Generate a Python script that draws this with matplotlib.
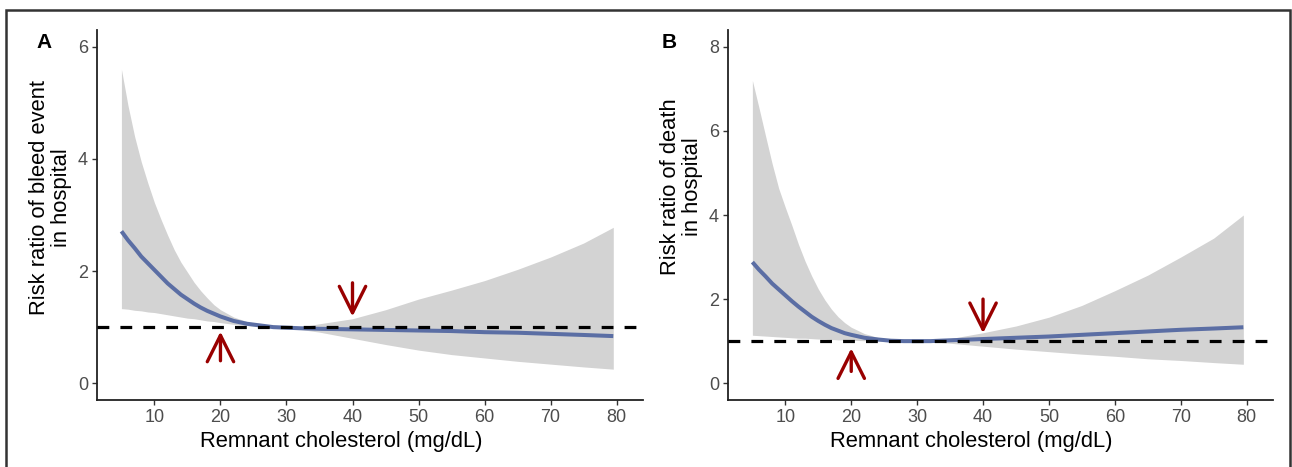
import matplotlib
matplotlib.use("Agg")
import matplotlib.pyplot as plt
from matplotlib.patches import Rectangle

plt.rcParams['font.family'] = ['Liberation Sans', 'DejaVu Sans']
plt.rcParams['lines.scale_dashes'] = False

# ---- Data ----
x_grid = [5, 6, 7, 8, 9, 10, 11, 12, 13, 14, 15, 16, 17, 18, 19, 20,
          22, 24, 26, 28, 30, 32, 35, 40, 45, 50, 55, 60, 65, 70, 75, 79.5]

# Panel A: bleed event in hospital
a_fit = [2.71, 2.55, 2.41, 2.26, 2.14, 2.02, 1.90, 1.78, 1.68, 1.58, 1.50, 1.42, 1.35, 1.29, 1.24, 1.19,
         1.11, 1.06, 1.03, 1.00, 0.99, 0.98, 0.97, 0.96, 0.95, 0.94, 0.93, 0.91, 0.90, 0.88, 0.86, 0.84]
a_upper = [5.60, 4.95, 4.40, 3.95, 3.57, 3.22, 2.92, 2.64, 2.38, 2.16, 1.98, 1.80, 1.65, 1.52, 1.40, 1.31,
           1.18, 1.10, 1.05, 1.01, 1.00, 1.00, 1.06, 1.15, 1.31, 1.50, 1.66, 1.83, 2.03, 2.25, 2.50, 2.78]
a_lower = [1.33, 1.32, 1.30, 1.29, 1.27, 1.26, 1.24, 1.22, 1.20, 1.18, 1.16, 1.15, 1.13, 1.11, 1.10, 1.08,
           1.05, 1.03, 1.01, 0.99, 0.98, 0.96, 0.91, 0.80, 0.69, 0.59, 0.51, 0.45, 0.39, 0.34, 0.29, 0.25]

# Panel B: death in hospital
b_fit = [2.88, 2.70, 2.54, 2.37, 2.23, 2.09, 1.95, 1.82, 1.70, 1.58, 1.48, 1.39, 1.31, 1.25, 1.19, 1.15,
         1.08, 1.04, 1.01, 1.00, 1.00, 1.00, 1.02, 1.05, 1.08, 1.11, 1.15, 1.19, 1.23, 1.27, 1.30, 1.33]
b_upper = [7.20, 6.55, 5.88, 5.22, 4.63, 4.18, 3.75, 3.30, 2.90, 2.55, 2.24, 1.98, 1.76, 1.58, 1.44, 1.33,
           1.18, 1.09, 1.04, 1.01, 1.00, 1.01, 1.06, 1.20, 1.36, 1.57, 1.85, 2.20, 2.57, 3.00, 3.45, 4.00]
b_lower = [1.14, 1.13, 1.12, 1.11, 1.10, 1.09, 1.08, 1.07, 1.07, 1.06, 1.05, 1.05, 1.04, 1.03, 1.03, 1.02,
           1.01, 1.00, 1.00, 1.00, 1.00, 0.99, 0.95, 0.88, 0.81, 0.75, 0.69, 0.64, 0.58, 0.54, 0.49, 0.45]

ref_line = 1.0
x_ticks = [10, 20, 30, 40, 50, 60, 70, 80]
a_yticks = [0, 2, 4, 6]
b_yticks = [0, 2, 4, 6, 8]

# arrows: (x, y_tail, y_tip)
a_arrows = [(20, 0.40, 0.92), (40, 1.79, 1.19)]
b_arrows = [(20, 0.28, 0.83), (40, 2.00, 1.19)]

panels = [
    dict(label='A', fit=a_fit, upper=a_upper, lower=a_lower, yticks=a_yticks,
         ylim=(-0.3, 6.3), ylabel='Risk ratio of bleed event\nin hospital', arrows=a_arrows,
         rect=[97/1292, 67/467, (643-97)/1292, (437-67)/467],
         ylab_y=0.546, lab_pos=(44/1292, 1 - 42/467)),
    dict(label='B', fit=b_fit, upper=b_upper, lower=b_lower, yticks=b_yticks,
         ylim=(-0.4, 8.4), ylabel='Risk ratio of death\nin hospital', arrows=b_arrows,
         rect=[728/1292, 67/467, (1273-728)/1292, (437-67)/467],
         ylab_y=0.576, lab_pos=(669/1292, 1 - 42/467)),
]

fig = plt.figure(figsize=(12.92, 4.67), dpi=100)
fig.patch.set_facecolor('white')

blue = '#5b6ea4'
ribbon = '#d3d3d3'
arrow_col = '#990000'
tick_col = '#4d4d4d'

for p in panels:
    ax = fig.add_axes(p['rect'])
    ax.fill_between(x_grid, p['lower'], p['upper'], color=ribbon, linewidth=0, zorder=1)
    ax.plot(x_grid, p['fit'], color=blue, lw=2.9, zorder=3, solid_capstyle='butt',
            solid_joinstyle='round')
    ax.axhline(ref_line, color='black', lw=2.3, dashes=(8.5, 8.0), zorder=4)
    for (xa, y0, y1) in p['arrows']:
        ax.annotate('', xy=(xa, y1), xytext=(xa, y0),
                    arrowprops=dict(arrowstyle='->,head_length=1.0,head_width=0.5',
                                    mutation_scale=19, color=arrow_col, lw=2.4,
                                    shrinkA=0, shrinkB=0), zorder=5)
    ax.set_xlim(1.3, 84.0)
    ax.set_ylim(*p['ylim'])
    ax.set_xticks(x_ticks)
    ax.set_yticks(p['yticks'])
    for s in ['top', 'right']:
        ax.spines[s].set_visible(False)
    for s in ['left', 'bottom']:
        ax.spines[s].set_linewidth(1.3)
        ax.spines[s].set_color('#222222')
    ax.tick_params(axis='both', colors='#333333', labelcolor=tick_col, labelsize=13,
                   length=3.5, width=1.0, pad=3)
    ax.set_xlabel('Remnant cholesterol (mg/dL)', fontsize=15.8, color='black')
    ax.xaxis.set_label_coords(0.447, -0.085)
    ax.set_ylabel(p['ylabel'], fontsize=15.8, color='black', linespacing=1.05)
    ax.yaxis.set_label_coords(-0.046, p['ylab_y'])
    fig.text(p['lab_pos'][0], p['lab_pos'][1], p['label'], fontsize=15,
             fontweight='bold', ha='center', va='center')

# outer border
fig.add_artist(Rectangle((6/1292, -0.05), (1290-6)/1292, (467-10)/467 + 0.05,
                         transform=fig.transFigure, fill=False, edgecolor='#333333',
                         lw=1.8, clip_on=False))

fig.savefig('out.png', dpi=100)
